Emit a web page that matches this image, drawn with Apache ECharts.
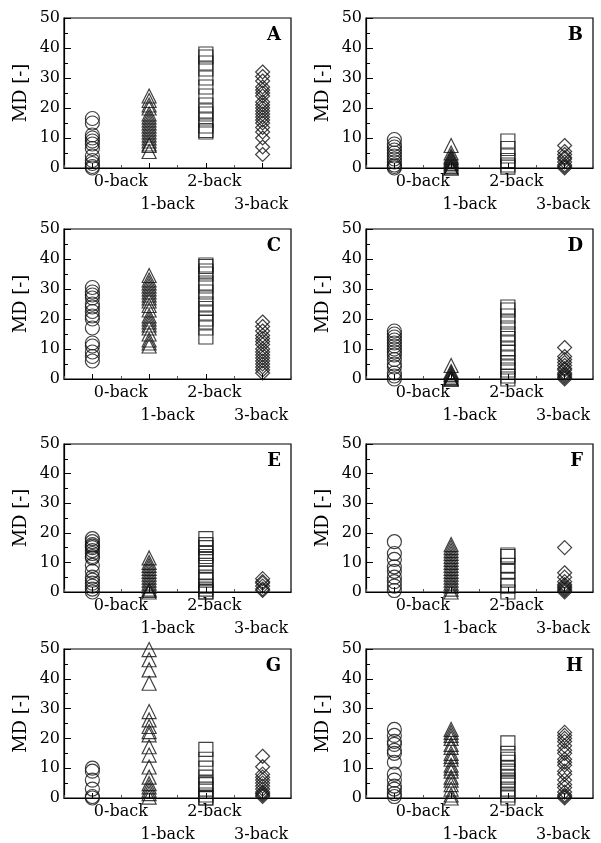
<!DOCTYPE html>
<html><head><meta charset="utf-8">
<script src="https://cdn.jsdelivr.net/npm/echarts@6/dist/echarts.min.js"></script>
<style>html,body{margin:0;padding:0;background:#fff}#c{width:601px;height:843px}</style>
</head><body><div id="c"></div>
<script>
const categories = ['0-back', '1-back', '2-back', '3-back'];
const panelNames = ['A', 'B', 'C', 'D', 'E', 'F', 'G', 'H'];
const yAxisName = 'MD [-]';

// Panel A
const A0 = [16.5, 15, 11, 10, 9, 8, 6.5, 4, 2.5, 1.5, 0.5, 0];
const A1 = [24, 22.5, 21, 20, 18, 17, 16, 15, 14, 13, 12, 11, 10, 9, 8, 7.5, 5.5];
const A2 = [38, 37, 35, 33, 30, 27, 24, 21, 19, 18, 16, 14, 12.5, 12];
const A3 = [32, 30.5, 29, 27, 26, 25, 24, 22, 21, 20, 19, 18, 17, 16, 15, 13.5, 12, 10, 7, 4.5];
// Panel B
const B0 = [9.5, 8, 7, 6, 5, 4, 3, 2, 1, 0.5, 0];
const B1 = [7.5, 5, 4, 3.5, 3, 2.5, 2, 1.5, 1, 0.5, 0, 0];
const B2 = [9, 6.5, 4, 2.5, 1, 0.3];
const B3 = [7.5, 5.5, 4.5, 3.5, 3, 2, 1, 0.5, 0];
// Panel C
const C0 = [30.5, 29, 28, 27, 25, 24, 22.5, 21, 20, 17, 12, 11, 9, 7.5, 6];
const C1 = [34.5, 33, 32, 31, 30, 29, 28, 27, 26, 24.5, 23, 21, 20, 19, 18, 17, 15, 13, 12, 11];
const C2 = [38, 37.5, 36, 35, 32, 31, 29, 27, 25, 23.5, 22, 20, 19, 17, 14];
const C3 = [19, 17.5, 16, 14.5, 13.5, 12.5, 11.5, 10, 9, 8, 7, 6, 5, 4, 3, 2];
// Panel D
const D0 = [16, 15, 14, 13, 12, 11, 10, 9, 8, 6.5, 5, 4, 2, 1, 0];
const D1 = [4.5, 2.5, 2, 1.5, 1, 0.5, 0, 0, 0];
const D2 = [24, 23, 21, 19, 17, 15, 13.5, 12, 10, 9, 7, 5.5, 4, 3, 1, 0];
const D3 = [10.5, 7.5, 6.5, 5.5, 4.5, 3.5, 3, 2, 1.5, 1, 0.5, 0];
// Panel E
const E0 = [18, 17, 16, 15.5, 15, 14, 13, 12, 11.5, 9, 7, 5, 4, 3, 2, 1, 0];
const E1 = [11.5, 10, 9, 8, 7, 6, 5, 4, 3, 2, 1, 0.5, 0];
const E2 = [18, 16, 15, 13, 12, 11, 9, 6.5, 5, 4, 2, 1, 0, 0];
const E3 = [4.5, 3.5, 3, 2, 1, 0.5];
// Panel F
const F0 = [17, 13, 11, 8.5, 7, 5, 3.5, 2, 0.5];
const F1 = [16, 15, 14, 13, 12, 11, 10, 9, 8, 7, 6, 5, 4, 3, 2, 1, 0];
const F2 = [12.5, 12, 9, 7, 4, 2, 0];
const F3 = [15, 6.5, 5, 3.5, 2.5, 2, 1.5, 1, 0.5, 0];
// Panel G
const G0 = [10, 9, 6, 3, 0.5, 0];
const G1 = [49.8, 46.4, 43, 38.5, 29, 26.2, 24, 22.3, 21.2, 17.2, 14.4, 10.4, 7, 4.8, 3.7, 2.6, 1.5, 0.3];
const G2 = [16.3, 13, 10, 7, 5, 4.5, 3, 1, 0, 0];
const G3 = [14, 10.5, 8, 7, 6, 5, 4, 3, 2, 1.5, 1, 0.5];
// Panel H
const H0 = [23, 21, 19, 18, 16, 15, 12, 8, 6, 4, 3, 1.5, 0.5];
const H1 = [23, 22, 21, 20, 18, 17, 15, 14, 13, 11, 10, 9, 7, 6, 4.5, 3, 1, 0];
const H2 = [18.5, 15, 13, 12, 10, 9, 7, 6, 5, 3, 1, 0];
const H3 = [22, 21, 20, 19, 17.5, 16, 15, 13, 12, 11, 9, 8, 6, 4.5, 3.5, 2, 1, 0.5, 0];

const panelData = [
  [A0, A1, A2, A3], [B0, B1, B2, B3], [C0, C1, C2, C3], [D0, D1, D2, D3],
  [E0, E1, E2, E3], [F0, F1, F2, F3], [G0, G1, G2, G3], [H0, H1, H2, H3]
];

const symbols = ['circle', 'triangle', 'rect', 'diamond'];
const symbolSizes = [14, 14, 14, 14];
const FONT = 'DejaVu Serif';
const TICK_FS = 16;

const colLeft = [64, 366];
const plotW = 227;
const rowTop = [18, 229, 444, 649];
const rowH = [150, 150, 148, 149];

const labelShift = [28.5, 18.5, 8.5, -1.5];
const rich = {};
categories.forEach((c, i) => {
  const s = labelShift[i];
  const top = i % 2 === 1 ? 23 : 0;
  rich['r' + i] = {
    fontFamily: FONT, fontSize: TICK_FS, color: '#000',
    padding: [top, s < 0 ? -2 * s : 0, 0, s > 0 ? 2 * s : 0]
  };
});

const grids = [], xAxes = [], yAxes = [], series = [], titles = [];
panelData.forEach((pd, p) => {
  const col = p % 2, row = Math.floor(p / 2);
  grids.push({
    left: colLeft[col], top: rowTop[row], width: plotW, height: rowH[row],
    show: true, borderColor: '#000', borderWidth: 1.2, backgroundColor: 'transparent'
  });
  xAxes.push({
    gridIndex: p, type: 'category', data: categories, position: 'bottom', boundaryGap: true,
    axisLine: { show: true, lineStyle: { color: '#000', width: 1.2 } },
    axisTick: { show: true, inside: true, alignWithLabel: true, length: 5, lineStyle: { color: '#000' } },
    axisLabel: {
      interval: 0, margin: 6, fontFamily: FONT, fontSize: TICK_FS, color: '#000',
      formatter: (v, i) => '{r' + i + '|' + v + '}', rich: rich
    },
    splitLine: { show: false }
  });
  xAxes.push({
    gridIndex: p, type: 'category', data: categories, position: 'bottom', boundaryGap: true,
    axisLine: { show: false },
    axisTick: { show: true, inside: true, alignWithLabel: false, length: 3, lineStyle: { color: '#555' } },
    axisLabel: { show: false }, splitLine: { show: false }
  });
  yAxes.push({
    gridIndex: p, type: 'value', min: 0, max: 50, interval: 10,
    name: yAxisName, nameLocation: 'middle', nameGap: 34,
    nameTextStyle: { fontFamily: FONT, fontSize: 18, color: '#000' },
    axisLine: { show: true, lineStyle: { color: '#000', width: 1.2 } },
    axisTick: { show: true, inside: true, length: 7, lineStyle: { color: '#000' } },
    minorTick: { show: true, splitNumber: 2, length: 4, lineStyle: { color: '#000' } },
    axisLabel: { margin: 4, fontFamily: FONT, fontSize: TICK_FS, color: '#000' },
    splitLine: { show: false }
  });
  titles.push({
    text: panelNames[p], right: 601 - (colLeft[col] + plotW) + 10, top: rowTop[row] + 8,
    padding: 0,
    textStyle: { fontFamily: FONT, fontWeight: 'bold', fontSize: 18, color: '#000' }
  });
  pd.forEach((vals, k) => {
    series.push({
      type: 'scatter', xAxisIndex: 2 * p, yAxisIndex: p, clip: false,
      symbol: symbols[k], symbolSize: symbolSizes[k],
      itemStyle: { color: 'rgba(0,0,0,0)', borderColor: '#111', borderWidth: 1.2 },
      emphasis: { disabled: true },
      data: vals.map(v => [categories[k], v])
    });
  });
});

const chart = echarts.init(document.getElementById('c'), null, { renderer: 'canvas' });
chart.setOption({
  animation: false, backgroundColor: '#fff',
  title: titles, grid: grids, xAxis: xAxes, yAxis: yAxes, series: series
});
</script></body></html>
